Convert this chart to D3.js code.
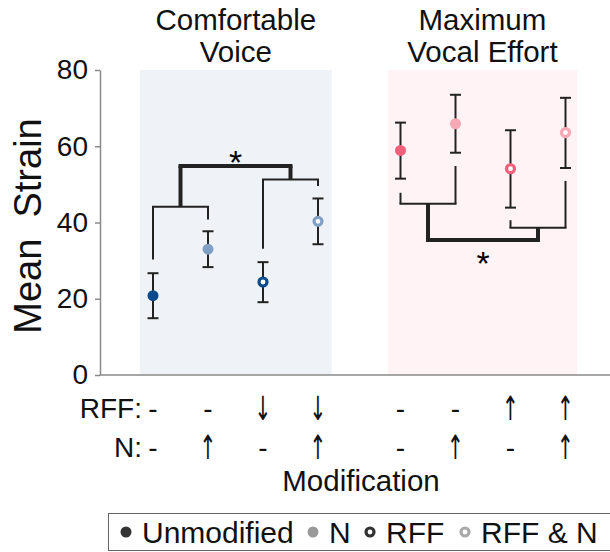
<!DOCTYPE html>
<html>
<head>
<meta charset="utf-8">
<script src="https://cdn.jsdelivr.net/npm/d3@7"></script>
<style>
  body { margin: 0; background: #fff; }
  svg { font-family: "Liberation Sans", Arial, sans-serif; }
</style>
</head>
<body>
<svg id="chart" width="610" height="552"></svg>
<script>
// conditions, slot = position along the x axis
var conditions = ["Unmodified", "N", "RFF", "RFF & N"];
var slotsCV = [0, 1, 2, 3];
var slotsMVE = [4.5, 5.5, 6.5, 7.5];

// mean strain with error bar limits
var cvMean = [20.8, 33.0, 24.4, 40.3];
var cvLow = [14.9, 28.3, 19.1, 34.3];
var cvHigh = [26.7, 37.7, 29.6, 46.3];
var mveMean = [58.9, 65.9, 54.1, 63.6];
var mveLow = [51.5, 58.3, 43.9, 54.3];
var mveHigh = [66.2, 73.5, 64.2, 72.7];

// significance brackets (values in strain units)
var cvPairs = [
  {a: 0, b: 1, legA: 30.3, legB: 40.8, level: 44.1},
  {a: 2, b: 3, legA: 33.1, legB: 49.6, level: 51.3}
];
var cvSigLevel = 54.8;
var mvePairs = [
  {a: 0, b: 1, legA: 47.8, legB: 54.8, level: 44.9},
  {a: 2, b: 3, legA: 40.6, legB: 50.9, level: 38.6}
];
var mveSigLevel = 35.4;

var rffSymbols = ["-", "-", "\u2193", "\u2193", "-", "-", "\u2191", "\u2191"];
var nSymbols = ["-", "\u2191", "-", "\u2191", "-", "\u2191", "-", "\u2191"];
var yTicks = [0, 20, 40, 60, 80];

var cvColors = ["#0b4a8b", "#7f9fc4", "#0b4a8b", "#7f9fc4"];
var mveColors = ["#f25f7a", "#f8a8b5", "#f25f7a", "#f8a8b5"];
var hollow = [false, false, true, true];

var svg = d3.select("#chart");
var x = d3.scaleLinear().domain([0, 7.5]).range([153, 565.5]);
var y = d3.scaleLinear().domain([0, 80]).range([375, 70]);

// shaded panels
svg.append("rect").attr("x", x(-0.24)).attr("y", y(80))
  .attr("width", x(3.25) - x(-0.24)).attr("height", y(0) - y(80))
  .attr("fill", "#eff3f7");
svg.append("rect").attr("x", x(4.27)).attr("y", y(80))
  .attr("width", x(7.71) - x(4.27)).attr("height", y(0) - y(80))
  .attr("fill", "#fff3f5");

// panel titles
function title(lines, cx) {
  var t = svg.append("text").attr("text-anchor", "middle")
    .attr("font-size", 29.5).attr("fill", "#111");
  lines.forEach(function(l, i) {
    t.append("tspan").attr("x", cx).attr("y", 30 + i * 32).text(l);
  });
}
title(["Comfortable", "Voice"], (x(-0.24) + x(3.25)) / 2);
title(["Maximum", "Vocal Effort"], (x(4.27) + x(7.71)) / 2);

// y axis
var yAxis = d3.axisLeft(y).tickValues(yTicks).tickSize(5).tickSizeOuter(0).tickPadding(7);
var ga = svg.append("g").attr("transform", "translate(100,0)").call(yAxis);
ga.selectAll("path, line").attr("stroke", "#8a8a8a").attr("stroke-width", 1.5);
ga.selectAll("text").attr("font-size", 28).attr("fill", "#111")
  .attr("font-family", "Liberation Sans, Arial, sans-serif");
svg.append("line").attr("x1", 100).attr("x2", 610).attr("y1", y(0)).attr("y2", y(0))
  .attr("stroke", "#8a8a8a").attr("stroke-width", 1.5);

svg.append("text").attr("transform", "translate(41," + 226 + ") rotate(-90)")
  .attr("text-anchor", "middle").attr("font-size", 38).attr("fill", "#111")
  .style("white-space", "pre").text("Mean  Strain");

// brackets
var ink = "#222";
function seg(x1, y1, x2, y2, w) {
  svg.append("line").attr("x1", x1).attr("y1", y1).attr("x2", x2).attr("y2", y2)
    .attr("stroke", ink).attr("stroke-width", w || 2);
}
function brackets(slots, pairs, sigLevel) {
  var mids = [];
  pairs.forEach(function(p) {
    var xa = x(slots[p.a]), xb = x(slots[p.b]);
    seg(xa, y(p.legA), xa, y(p.level));
    seg(xb, y(p.legB), xb, y(p.level));
    seg(xa - 1, y(p.level), xb + 1, y(p.level));
    var xm = (xa + xb) / 2;
    mids.push(xm);
    seg(xm, y(p.level), xm, y(sigLevel), 4);
  });
  seg(mids[0] - 2, y(sigLevel), mids[1] + 2, y(sigLevel), 4);
  return (mids[0] + mids[1]) / 2;
}
var cvStarX = brackets(slotsCV, cvPairs, cvSigLevel);
var mveStarX = brackets(slotsMVE, mvePairs, mveSigLevel);
svg.append("text").attr("x", cvStarX).attr("y", y(cvSigLevel) + 8)
  .attr("text-anchor", "middle").attr("font-size", 34).text("*");
svg.append("text").attr("x", mveStarX).attr("y", y(mveSigLevel) + 35)
  .attr("text-anchor", "middle").attr("font-size", 34).text("*");

// error bars and points
function points(slots, mean, low, high, colors) {
  slots.forEach(function(s, i) {
    var cx = x(s);
    seg(cx, y(low[i]), cx, y(high[i]));
    seg(cx - 5.5, y(low[i]), cx + 5.5, y(low[i]));
    seg(cx - 5.5, y(high[i]), cx + 5.5, y(high[i]));
    if (hollow[i]) {
      svg.append("circle").attr("cx", cx).attr("cy", y(mean[i])).attr("r", 4)
        .attr("fill", "#fff").attr("stroke", colors[i]).attr("stroke-width", 3.2);
    } else {
      svg.append("circle").attr("cx", cx).attr("cy", y(mean[i])).attr("r", 5.5)
        .attr("fill", colors[i]);
    }
  });
}
points(slotsCV, cvMean, cvLow, cvHigh, cvColors);
points(slotsMVE, mveMean, mveLow, mveHigh, mveColors);

// modification rows
var allSlots = slotsCV.concat(slotsMVE);
function row(label, syms, yy) {
  svg.append("text").attr("x", 142).attr("y", yy).attr("text-anchor", "end")
    .attr("font-size", 28).attr("fill", "#111").text(label);
  allSlots.forEach(function(s, i) {
    var isArrow = syms[i] !== "-";
    if (isArrow) {
      // narrow, tall arrow glyph like the reference font
      svg.append("text")
        .attr("transform", "translate(" + x(s) + "," + (yy + 2) + ") scale(0.7,1.15)")
        .attr("text-anchor", "middle").attr("font-size", 29).attr("fill", "#111")
        .attr("font-family", "DejaVu Sans")
        .text(syms[i] + "\uFE0E");
    } else {
      svg.append("text").attr("x", x(s)).attr("y", yy).attr("text-anchor", "middle")
        .attr("font-size", 28).attr("fill", "#111").text(syms[i]);
    }
  });
}
row("RFF:", rffSymbols, 418);
row("N:", nSymbols, 457);
svg.append("text").attr("x", 361).attr("y", 491).attr("text-anchor", "middle")
  .attr("font-size", 29.5).attr("fill", "#111").text("Modification");

// legend
var legendColors = ["#333", "#9a9a9a", "#333", "#aaa"];
var legendX = [126, 313, 370, 465];
svg.append("rect").attr("x", 108.5).attr("y", 513.5).attr("width", 510).attr("height", 37)
  .attr("fill", "#fff").attr("stroke", "#666").attr("stroke-width", 1);
conditions.forEach(function(c, i) {
  if (hollow[i]) {
    svg.append("circle").attr("cx", legendX[i]).attr("cy", 532).attr("r", 4)
      .attr("fill", "#fff").attr("stroke", legendColors[i]).attr("stroke-width", 3.2);
  } else {
    svg.append("circle").attr("cx", legendX[i]).attr("cy", 532).attr("r", 5.5)
      .attr("fill", legendColors[i]);
  }
  svg.append("text").attr("x", legendX[i] + 16).attr("y", 543)
    .attr("font-size", 30).attr("fill", "#111").text(c);
});
</script>
</body>
</html>
